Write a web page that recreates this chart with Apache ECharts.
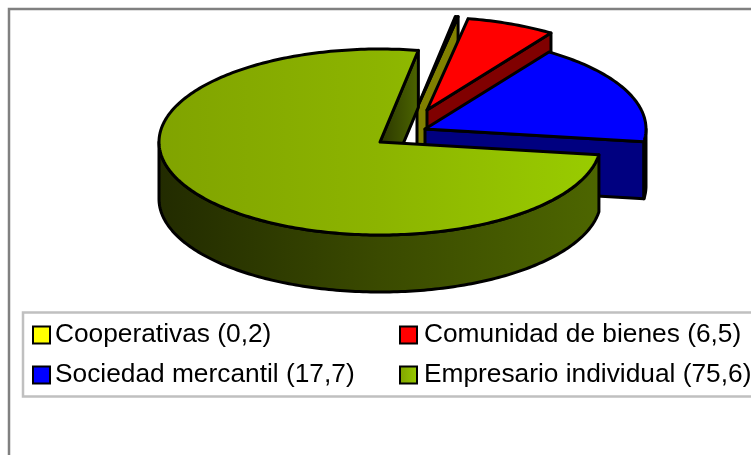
<!DOCTYPE html>
<html>
<head>
<meta charset="utf-8">
<style>html,body{margin:0;padding:0;background:#fff}#c{width:751px;height:455px}</style>
<script src="https://cdn.jsdelivr.net/npm/echarts@6/dist/echarts.min.js"></script>
</head>
<body>
<div id="c"></div>
<script>
// Data
const categories = ['Cooperativas', 'Comunidad de bienes', 'Sociedad mercantil', 'Empresario individual'];
const values = [0.2, 6.5, 17.7, 75.6];
const valueLabels = ['0,2', '6,5', '17,7', '75,6'];

// Projection and layout of the tilted pie
const startAngle = 10, rx = 221, ry = 93, depth = 57;
const centres = [[417, 108], [427, 110], [425, 129], [380, 142]];
const fills = [
  {top: '#ffff00', wall: '#808000', end: '#808000'},
  {top: '#ff0000', wall: '#800000', end: '#800000'},
  {top: '#0000ff', wall: '#000080', end: '#000080'},
  {
    top: {type: 'linear', x: 0, y: 0, x2: 1, y2: 0, colorStops: [
      {offset: 0, color: '#80a300'}, {offset: 0.5, color: '#8cb400'}, {offset: 1, color: '#99cc00'}]},
    wall: {type: 'linear', x: 0, y: 0, x2: 1, y2: 0, colorStops: [
      {offset: 0, color: '#222b00'}, {offset: 0.5, color: '#3a4a00'}, {offset: 1, color: '#4d6600'}]},
    end: {type: 'linear', x: 0, y: 0, x2: 1, y2: 0, colorStops: [
      {offset: 0, color: '#2a3500'}, {offset: 1, color: '#4d6600'}]}
  }
];
const total = values.reduce((a, b) => a + b, 0);

function pt(c, deg, drop) {
  const a = deg * Math.PI / 180;
  return [c[0] + rx * Math.sin(a), c[1] - ry * Math.cos(a) + (drop || 0)];
}
function arc(c, from, to, drop) {
  const out = [], n = Math.max(1, Math.ceil(Math.abs(to - from)));
  for (let i = 0; i <= n; i++) out.push(pt(c, from + (to - from) * i / n, drop));
  return out;
}
function sliceAngles(i) {
  let before = 0;
  for (let k = 0; k < i; k++) before += values[k];
  return [startAngle + before / total * 360, startAngle + (before + values[i]) / total * 360];
}
const lineStyle = {stroke: '#000', lineWidth: 3, lineJoin: 'round'};
function poly(points, fill) {
  return {type: 'polygon', shape: {points}, style: Object.assign({fill}, lineStyle)};
}
function makeRender(i) {
  return function () {
    const c = centres[i], [a0, a1] = sliceAngles(i), kids = [];
    // cut wall at the clockwise end of the slice
    kids.push(poly([c, pt(c, a1), pt(c, a1, depth), [c[0], c[1] + depth]], fills[i].end));
    // visible front part of the rim
    const f0 = Math.max(a0, 90), f1 = Math.min(a1, 270);
    if (f1 > f0) {
      kids.push(poly(arc(c, f0, f1, 0).concat(arc(c, f1, f0, depth)), fills[i].wall));
    }
    // top face
    kids.push(poly([c].concat(arc(c, a0, a1, 0)), fills[i].top));
    return {type: 'group', children: kids};
  };
}
const names = categories.map((n, i) => n + ' (' + valueLabels[i] + ')');
const swatches = ['#ffff00', '#ff0000', '#0000ff',
  {type: 'linear', x: 0, y: 0, x2: 1, y2: 0, colorStops: [
    {offset: 0, color: '#80a300'}, {offset: 1, color: '#99cc00'}]}];
const legendPos = [[32, 322], [399, 322], [32, 362], [399, 362]];
const textNudge = [1, 3, 1, 3];

const chart = echarts.init(document.getElementById('c'), null, {renderer: 'canvas'});
chart.setOption({
  animation: false,
  backgroundColor: '#ffffff',
  graphic: [
    {type: 'rect', z: -10, shape: {x: 9, y: 9, width: 800, height: 500},
      style: {fill: '#fff', stroke: '#808080', lineWidth: 2.5}},
    {type: 'rect', z: -9, shape: {x: 23, y: 312.5, width: 800, height: 84},
      style: {fill: '#fff', stroke: '#c0c0c0', lineWidth: 2.5}}
  ],
  legend: names.map((n, i) => ({
    left: legendPos[i][0], top: legendPos[i][1], padding: 0,
    itemWidth: 17, itemHeight: 17, selectedMode: false,
    textStyle: {fontFamily: 'Liberation Sans', fontSize: 26.3, color: '#000', padding: [4, 0, 0, textNudge[i] - 1]},
    data: [{name: n, icon: 'rect', itemStyle: {color: swatches[i], borderColor: '#000', borderWidth: 2}}]
  })),
  series: names.map((n, i) => ({
    type: 'custom', name: n, coordinateSystem: 'none', silent: true, z: 2 + i,
    data: [values[i]], renderItem: makeRender(i),
    itemStyle: {color: typeof swatches[i] === 'string' ? swatches[i] : '#99cc00'}
  }))
});
</script>
</body>
</html>
